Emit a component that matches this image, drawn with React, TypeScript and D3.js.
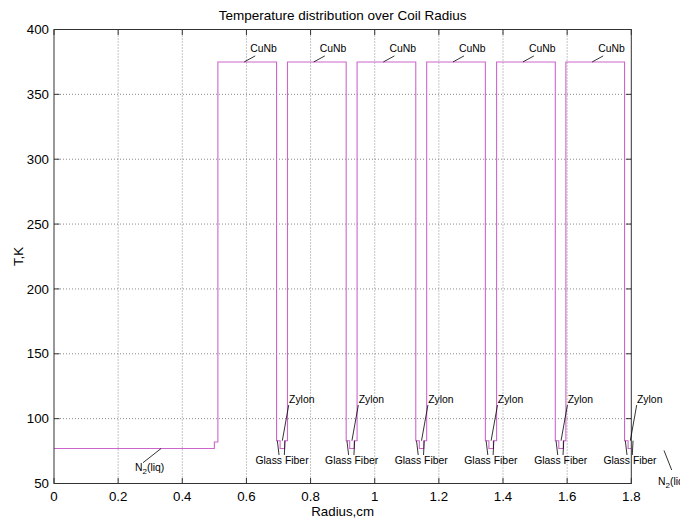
import React from 'react';
import * as d3 from 'd3';

// Temperature profile vertices (radius in cm, temperature in K)
const radius = [
  0, 0.5, 0.5, 0.511, 0.511, 0.694, 0.694, 0.705, 0.705, 0.719, 0.719, 0.728,
  0.728, 0.911, 0.911, 0.922, 0.922, 0.936, 0.936, 0.945,
  0.945, 1.128, 1.128, 1.139, 1.139, 1.153, 1.153, 1.162,
  1.162, 1.345, 1.345, 1.356, 1.356, 1.370, 1.370, 1.380,
  1.380, 1.563, 1.563, 1.574, 1.574, 1.588, 1.588, 1.596,
  1.596, 1.779, 1.779, 1.790, 1.790, 1.804, 1.804, 1.813, 1.813, 1.9,
];
const temperature = [
  77, 77, 82, 82, 375, 375, 83, 83, 77, 77, 83, 83,
  375, 375, 83, 83, 77, 77, 83, 83,
  375, 375, 83, 83, 77, 77, 83, 83,
  375, 375, 83, 83, 77, 77, 83, 83,
  375, 375, 83, 83, 77, 77, 83, 83,
  375, 375, 83, 83, 77, 77, 83, 83, 77, 77,
];

const xTicks = [0, 0.2, 0.4, 0.6, 0.8, 1, 1.2, 1.4, 1.6, 1.8];
const xTickLabels = ['0', '0.2', '0.4', '0.6', '0.8', '1', '1.2', '1.4', '1.6', '1.8'];
const yTicks = [50, 100, 150, 200, 250, 300, 350, 400];

// annotation anchors
const cunbAnchors = [0.593, 0.810, 1.027, 1.244, 1.462, 1.678];
const dipCenters = [0.711, 0.928, 1.145, 1.362, 1.580, 1.796];
const cunbLevel = 375;
const shoulderLevel = 83;
const n2Level = 77;
const n2Anchor = 0.334;

const title = 'Temperature distribution over Coil Radius';
const xLabel = 'Radius,cm';
const yLabel = 'T,K';

const W = 680;
const H = 522;
const L = 54;
const R = 631.3;
const T = 29.5;
const B = 483.5;
const FONT = 'Arial, "Liberation Sans", Helvetica, sans-serif';
const PINK = '#cc66cc';

export default function App() {
  const x = d3.scaleLinear().domain([0, 1.8]).range([L, R]);
  const y = d3.scaleLinear().domain([50, 400]).range([B, T]);
  const pts: [number, number][] = radius.map((r, i) => [r, temperature[i]]);
  const line = d3
    .line<[number, number]>()
    .x((d) => x(d[0]))
    .y((d) => y(d[1]));
  const tl = 5.5;
  const annFont = 10.4;

  return (
    <div style={{ position: 'absolute', left: 0, top: 0 }}>
      <svg width={W} height={H} style={{ display: 'block', background: '#fff' }} fontFamily={FONT}>
        <defs>
          <clipPath id="plotclip">
            <rect x={L} y={T} width={R - L} height={B - T} />
          </clipPath>
        </defs>
        <rect x={0} y={0} width={W} height={H} fill="#fff" />
        {/* grid */}
        {xTicks.slice(1, -1).map((t) => (
          <line key={'gx' + t} x1={x(t)} x2={x(t)} y1={T} y2={B} stroke="#8a8a8a" strokeWidth={1} strokeDasharray="1,2" />
        ))}
        {yTicks.slice(1, -1).map((t) => (
          <line key={'gy' + t} x1={L} x2={R} y1={y(t)} y2={y(t)} stroke="#8a8a8a" strokeWidth={1} strokeDasharray="1,2" />
        ))}
        {/* data */}
        <path d={line(pts) || ''} fill="none" stroke={PINK} strokeWidth={1.1} clipPath="url(#plotclip)" />
        {/* box */}
        <rect x={L} y={T} width={R - L} height={B - T} fill="none" stroke="#333" strokeWidth={1} />
        {/* ticks */}
        {xTicks.map((t, i) => (
          <g key={'xt' + t}>
            <line x1={x(t)} x2={x(t)} y1={B} y2={B - tl} stroke="#333" />
            <line x1={x(t)} x2={x(t)} y1={T} y2={T + tl} stroke="#333" />
            <text x={x(t)} y={B + 17} fontSize={13.3} textAnchor="middle" fill="#000">
              {xTickLabels[i]}
            </text>
          </g>
        ))}
        {yTicks.map((t) => (
          <g key={'yt' + t}>
            <line x1={L} x2={L + tl} y1={y(t)} y2={y(t)} stroke="#333" />
            <line x1={R} x2={R - tl} y1={y(t)} y2={y(t)} stroke="#333" />
            <text x={L - 5} y={y(t) + 4.7} fontSize={13.3} textAnchor="end" fill="#000">
              {t}
            </text>
          </g>
        ))}
        {/* titles */}
        <text x={(L + R) / 2} y={20} fontSize={13.5} textAnchor="middle" fill="#000">
          {title}
        </text>
        <text x={(L + R) / 2} y={516} fontSize={13.3} textAnchor="middle" fill="#000">
          {xLabel}
        </text>
        <text
          transform={`translate(${23},${(T + B) / 2}) rotate(-90)`}
          fontSize={13.3}
          textAnchor="middle"
          fill="#000"
        >
          {yLabel}
        </text>
        {/* CuNb annotations */}
        {cunbAnchors.map((r) => {
          const ax = x(r);
          const ay = y(cunbLevel);
          return (
            <g key={'cu' + r}>
              <line x1={ax} y1={ay} x2={ax + 11} y2={ay - 6} stroke="#000" strokeWidth={0.8} />
              <text x={ax + 6} y={ay - 9.5} fontSize={annFont} fill="#000">
                CuNb
              </text>
            </g>
          );
        })}
        {/* Zylon & Glass Fiber annotations */}
        {dipCenters.map((r) => {
          const cx = x(r);
          const sy = y(shoulderLevel);
          return (
            <g key={'zy' + r}>
              <line x1={cx + 6.7} y1={405} x2={cx + 0.3} y2={sy} stroke="#000" strokeWidth={0.8} />
              <text x={cx + 7} y={403} fontSize={annFont} fill="#000">
                Zylon
              </text>
              <line x1={cx - 3} y1={455} x2={cx - 4.7} y2={sy} stroke="#000" strokeWidth={0.8} />
              <line x1={cx + 2.3} y1={455} x2={cx + 3} y2={sy} stroke="#000" strokeWidth={0.8} />
              <text x={cx} y={464} fontSize={annFont} textAnchor="middle" fill="#000">
                Glass Fiber
              </text>
            </g>
          );
        })}
        {/* N2(liq) annotations */}
        <line x1={143} y1={462.7} x2={x(n2Anchor)} y2={y(n2Level)} stroke="#000" strokeWidth={0.8} />
        <text x={135} y={471} fontSize={annFont} fill="#000">
          N<tspan dy={3} fontSize={8}>2</tspan>
          <tspan dy={-3}>(liq)</tspan>
        </text>
        <line x1={664} y1={y(n2Level) + 2} x2={671.7} y2={470} stroke="#000" strokeWidth={0.8} />
        <text x={658} y={485} fontSize={annFont} fill="#000">
          N<tspan dy={3} fontSize={8}>2</tspan>
          <tspan dy={-3}>(liq)</tspan>
        </text>
      </svg>
    </div>
  );
}
